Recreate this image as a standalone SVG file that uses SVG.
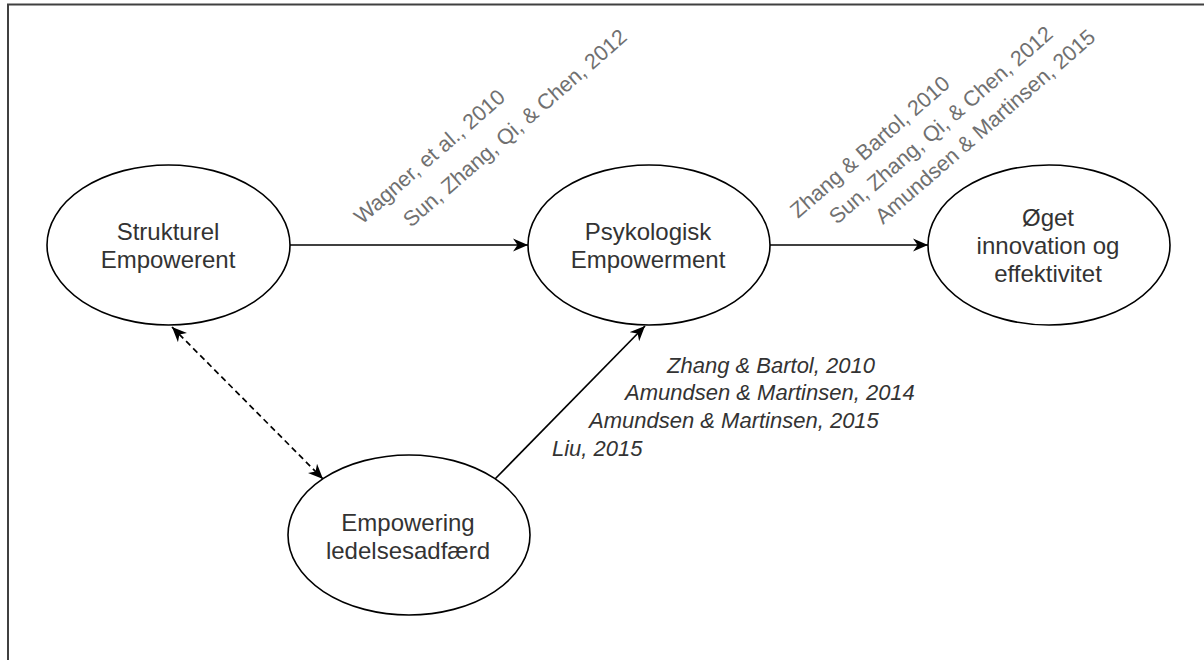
<svg xmlns="http://www.w3.org/2000/svg" width="1204" height="660" viewBox="0 0 1204 660">
  <style>
    .node ellipse { fill: #ffffff; stroke: #000000; stroke-width: 1.6; }
    .node text { font-family: "Liberation Sans", Arial, sans-serif; font-size: 24px; fill: #333333; text-anchor: middle; }
    .conn { stroke: #000000; stroke-width: 1.7; fill: none; }
    .dashed { stroke-dasharray: 6 4; }
    .rlab { font-family: "Liberation Sans", Arial, sans-serif; font-size: 21.5px; fill: #707070; }
    .ilab { font-family: "Liberation Sans", Arial, sans-serif; font-size: 22px; font-style: italic; fill: #333333; }
  </style>
  <defs>
    <marker id="arrow" markerUnits="userSpaceOnUse" markerWidth="18" markerHeight="14" refX="15" refY="6.5" orient="auto-start-reverse" viewBox="0 0 18 13">
      <path d="M0,0 L15,6.5 L0,13 L4.5,6.5 Z" fill="#000000" stroke="none"/>
    </marker>
  </defs>
  <rect x="0" y="0" width="1204" height="660" fill="#ffffff"/>
  <rect id="frame" x="8" y="4.5" width="1300" height="700" fill="#ffffff" stroke="#404040" stroke-width="2"/>

  <g id="connectors">
    <line class="conn" x1="290" y1="245" x2="528" y2="245" marker-end="url(#arrow)"/>
    <line class="conn" x1="770" y1="245" x2="928" y2="245" marker-end="url(#arrow)"/>
    <line class="conn" x1="495" y1="479" x2="645" y2="326" marker-end="url(#arrow)"/>
    <line class="conn dashed" x1="172" y1="327" x2="323" y2="479" marker-start="url(#arrow)" marker-end="url(#arrow)"/>
  </g>

  <g id="node-strukturel" class="node">
    <ellipse cx="168.5" cy="245" rx="121.5" ry="80"/>
    <text x="168" y="240">Strukturel</text>
    <text x="168" y="268">Empowerent</text>
  </g>
  <g id="node-psykologisk" class="node">
    <ellipse cx="649" cy="245" rx="121" ry="80"/>
    <text x="648" y="240">Psykologisk</text>
    <text x="648" y="268">Empowerment</text>
  </g>
  <g id="node-oeget" class="node">
    <ellipse cx="1049" cy="245" rx="121" ry="80"/>
    <text x="1048" y="226">Øget</text>
    <text x="1048" y="254">innovation og</text>
    <text x="1048" y="282">effektivitet</text>
  </g>
  <g id="node-empowering" class="node">
    <ellipse cx="409" cy="535" rx="121" ry="80"/>
    <text x="408" y="531">Empowering</text>
    <text x="408" y="559">ledelsesadfærd</text>
  </g>

  <g id="labels">
    <text class="rlab" transform="translate(362 225) rotate(-41)">Wagner, et al., 2010</text>
    <text class="rlab" transform="translate(411 228) rotate(-41)">Sun, Zhang, Qi, &amp; Chen, 2012</text>
    <text class="rlab" transform="translate(798 219) rotate(-41)">Zhang &amp; Bartol, 2010</text>
    <text class="rlab" transform="translate(837 225) rotate(-41)">Sun, Zhang, Qi, &amp; Chen, 2012</text>
    <text class="rlab" transform="translate(883 225) rotate(-41)">Amundsen &amp; Martinsen, 2015</text>
    <text class="ilab" x="667" y="373">Zhang &amp; Bartol, 2010</text>
    <text class="ilab" x="625" y="400">Amundsen &amp; Martinsen, 2014</text>
    <text class="ilab" x="589" y="428">Amundsen &amp; Martinsen, 2015</text>
    <text class="ilab" x="552" y="456">Liu, 2015</text>
  </g>
</svg>
